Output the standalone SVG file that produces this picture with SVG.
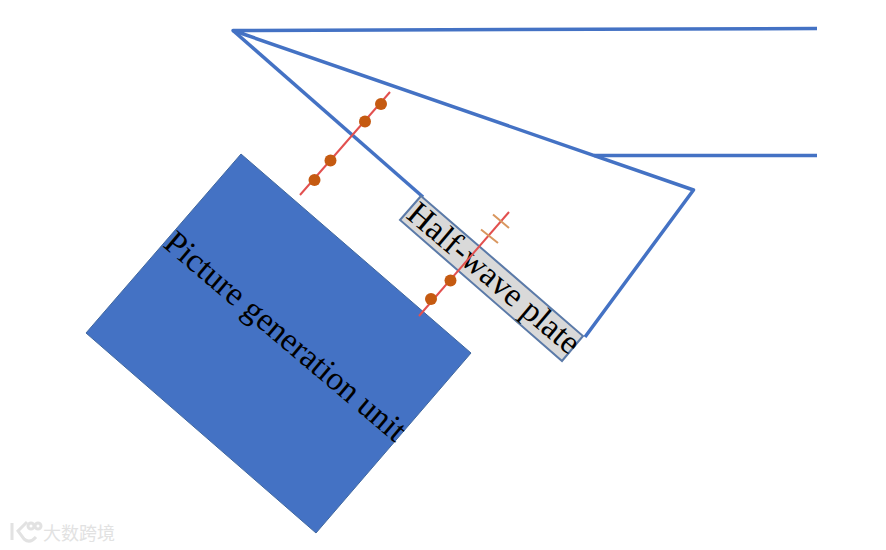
<svg xmlns="http://www.w3.org/2000/svg" width="886" height="550" viewBox="0 0 886 550">
<style>
.b{fill:none;stroke:#4472c4;stroke-width:3.500;stroke-linejoin:round}
.r{stroke:#e2504f;stroke-width:2;fill:none}
.d{fill:#c55a11}
.t{stroke:#d9975f;stroke-width:2;fill:none}
.l{font-family:"Liberation Serif","Times New Roman",serif;font-size:33.500px;fill:#000}
.w{font-family:"Noto Sans CJK SC",sans-serif;font-size:18px;fill:#e2e2e2}
.wl{fill:none;stroke:#e2e2e2;stroke-width:3}
</style>
<rect width="886" height="550" fill="#fff"/>
<g id="connectors">
<path class="b" d="M817 28.500L233 30.500L693.500 190L585 337"/>
<path class="b" d="M233 30.500L423 197"/>
<path class="b" d="M594 155.500H817"/>
</g>
<g id="picture-generation-unit">
<polygon points="241,154 471,353 316,533 86,333" fill="#4472c4" stroke="#41689f" stroke-width="1"/>
<text class="l" transform="translate(162 246) rotate(40.200)">Picture generation unit</text>
</g>
<g id="half-wave-plate">
<polygon points="421,196 583,336 562,361 400,220" fill="#d9d9d9" stroke="#5b7aa8" stroke-width="2"/>
<text class="l" transform="translate(405 217) rotate(40.200)">Half-wave plate</text>
</g>
<g id="rays">
<path class="r" d="M300 195L390 92"/>
<path class="r" d="M419 316L509 212"/>
<circle class="d" cx="314.500" cy="180" r="6"/>
<circle class="d" cx="330.500" cy="160.500" r="6"/>
<circle class="d" cx="365" cy="121.500" r="6"/>
<circle class="d" cx="381" cy="104" r="6"/>
<circle class="d" cx="431" cy="299" r="6"/>
<circle class="d" cx="450.500" cy="280.500" r="6"/>
<path class="t" d="M481 229.500L498 243M493 214.500L509 228"/>
</g>
<g id="watermark">
<path class="wl" d="M12 523V540M27 522L18 531L24 539Q30 544 36 537"/>
<circle class="wl" cx="31" cy="526" r="3"/>
<circle class="wl" cx="38" cy="526" r="3"/>
<text class="w" x="43" y="540">大数跨境</text>
</g>
</svg>
